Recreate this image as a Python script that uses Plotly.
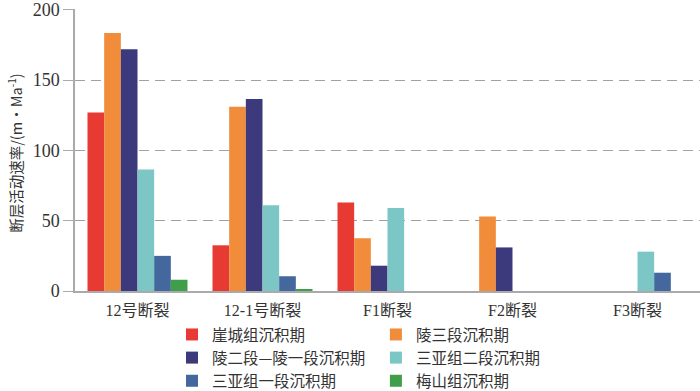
import plotly.graph_objects as go

categories = ["12号断裂", "12-1号断裂", "F1断裂", "F2断裂", "F3断裂"]
series_names = ["崖城组沉积期", "陵三段沉积期", "陵二段—陵一段沉积期",
                "三亚组二段沉积期", "三亚组一段沉积期", "梅山组沉积期"]
yacheng = [127, 32.5, 63, 0, 0]
ling3 = [183.5, 131, 37.5, 53, 0]
ling21 = [172, 136.5, 18, 31, 0]
sanya2 = [86.5, 61, 59, 0, 28]
sanya1 = [25, 10.5, 0, 0, 13]
meishan = [8, 1, 0, 0, 0]
y_ticks = [0, 50, 100, 150, 200]
y_title = "断层活动速率/(m•Ma<sup>-1</sup>)"

values = [yacheng, ling3, ling21, sanya2, sanya1, meishan]
colors = ["#e63a33", "#f08c3a", "#3c3a7d", "#7cc6c6", "#44679e", "#3e9e4a"]
legend_ids = ["legend", "legend2", "legend", "legend2", "legend", "legend2"]

font_fam = "Liberation Serif, Noto Sans CJK SC, serif"

fig = go.Figure()
for name, vals, c, lg in zip(series_names, values, colors, legend_ids):
    fig.add_trace(go.Bar(x=categories, y=vals, name=name, marker_color=c,
                         marker_line_width=0, legend=lg))

leg_common = dict(orientation="v", xanchor="left",
                  yref="container", xref="container", y=0.187, yanchor="top",
                  bgcolor="rgba(0,0,0,0)",
                  font=dict(family="Noto Sans CJK SC", size=15.5, color="#333333"),
                  itemwidth=30, tracegroupgap=0, traceorder="normal")

fig.update_layout(
    width=700, height=391,
    margin=dict(l=75, r=0, t=9, b=100, autoexpand=False),
    paper_bgcolor="white", plot_bgcolor="white",
    barmode="group", bargap=0.2, bargroupgap=0,
    font=dict(family=font_fam, size=15, color="#333333"),
    showlegend=True,
    legend=dict(x=0.2457, **leg_common),
    legend2=dict(x=0.537, **leg_common),
)
fig.add_annotation(text=y_title, textangle=-90, xref="paper", yref="paper",
                   x=0, y=0.49, xanchor="center", yanchor="middle", xshift=-60,
                   showarrow=False,
                   font=dict(family="Noto Sans CJK SC", size=14.5, color="#333333"))
fig.update_xaxes(showline=True, linecolor="#aaaaaa", linewidth=1.5,
                 ticks="", tickfont=dict(size=16), range=[-0.5, 4.5],
                 ticklabelstandoff=4)
fig.update_yaxes(range=[0, 200.6], tickvals=y_ticks, showline=True, linecolor="#aaaaaa",
                 linewidth=1.5, ticks="outside", ticklen=10, tickcolor="#aaaaaa",
                 showgrid=True, gridcolor="#a0a0a0", griddash="10px,6px", gridwidth=1,
                 zeroline=False, tickfont=dict(size=18))

fig.write_html("out.html", config={"displayModeBar": False},
               post_script="document.body.style.margin='0';")
